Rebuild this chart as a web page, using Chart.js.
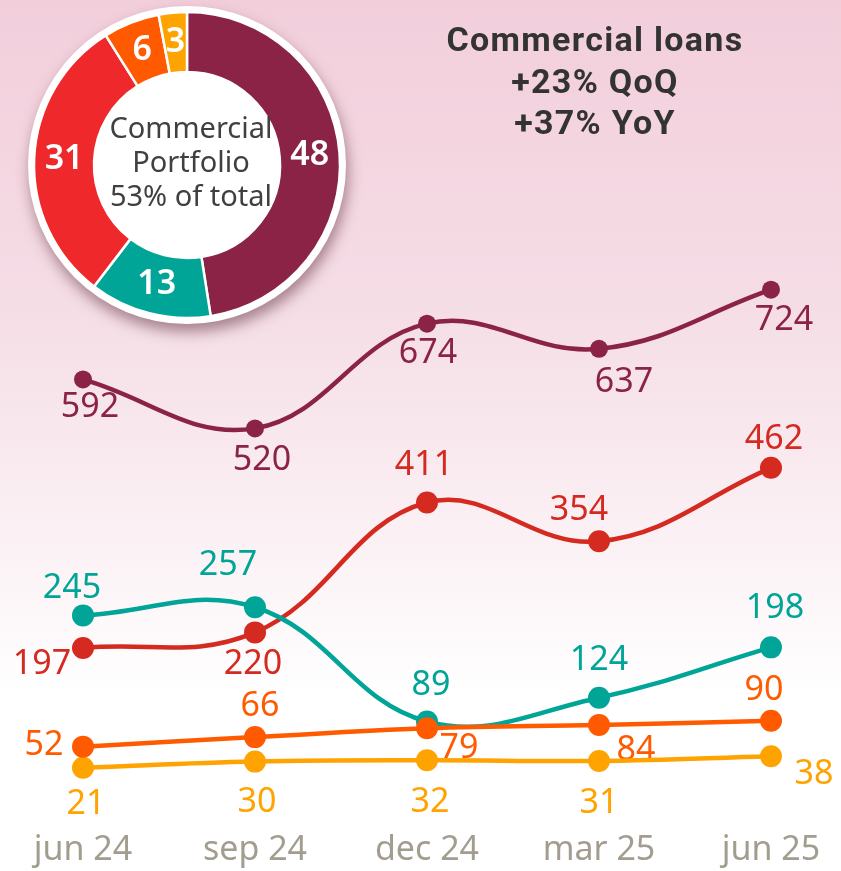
<!DOCTYPE html>
<html>
<head>
<meta charset="utf-8">
<script src="https://cdn.jsdelivr.net/npm/chart.js@4.4.1/dist/chart.umd.min.js"></script>
<style>
  html, body { margin: 0; padding: 0; }
  body {
    width: 841px; height: 871px; overflow: hidden; position: relative;
    background: linear-gradient(to bottom, #f2cedb 0%, #f5dde6 35%, #fbf1f5 62%, #ffffff 80%);
    font-family: "Noto Sans", sans-serif;
  }
  #lineChart { position: absolute; left: 0; top: 0; }
  #donutChart { position: absolute; left: 7px; top: -15px; }
  .headline {
    position: absolute; left: 395px; width: 400px; top: 19px;
    text-align: center; font: 700 34px Roboto, sans-serif; letter-spacing: 1.3px;
    line-height: 41.5px; color: #333;
  }
</style>
</head>
<body>
<canvas id="lineChart" width="841" height="871"></canvas>
<canvas id="donutChart" width="360" height="360"></canvas>
<div class="headline">Commercial loans<br>+23% QoQ<br>+37% YoY</div>
<script>
// values
const quarters = ["jun 24", "sep 24", "dec 24", "mar 25", "jun 25"];
const maroonSeries = [592, 520, 674, 637, 724];
const redSeries = [197, 220, 411, 354, 462];
const tealSeries = [245, 257, 89, 124, 198];
const orangeSeries = [52, 66, 79, 84, 90];
const amberSeries = [21, 30, 32, 31, 38];
const portfolioShares = [48, 13, 31, 6, 3];
const portfolioCaption = ["Commercial", "Portfolio", "53% of total"];

// where each value label sits relative to its point (px)
const maroonLabelPos = [[7, 28], [7, 32], [1, 30], [25, 33], [13, 31]];
const redLabelPos = [[-41, 16], [-2, 32], [-3, -37], [-20, -31], [3, -29]];
const tealLabelPos = [[-11, -27], [-27, -42], [4, -36], [0, -37], [4, -39]];
const orangeLabelPos = [[-39, -1], [5, -31], [32, 20], [37, 25], [-7, -30]];
const amberLabelPos = [[3, 37], [2, 41], [3, 42], [0, 42], [43, 18]];

const MAROON = "#8b2347", RED = "#d42a20", TEAL = "#00a598", ORANGE = "#ff5a00", AMBER = "#ffa300";

function lineSet(data, color, radius, order, labelPos) {
  return {
    data,
    borderColor: color,
    backgroundColor: color,
    pointBackgroundColor: color,
    pointBorderWidth: 0,
    pointRadius: radius,
    borderWidth: 4.5,
    tension: 0.4,
    clip: false,
    order,
    labelPos,
  };
}

// value labels, drawn under the lines
const pointLabels = {
  id: "pointLabels",
  beforeDatasetsDraw(chart) {
    const ctx = chart.ctx;
    ctx.save();
    ctx.font = "400 34px 'Noto Sans'";
    ctx.textAlign = "center";
    ctx.textBaseline = "middle";
    chart.data.datasets.forEach((ds, i) => {
      const meta = chart.getDatasetMeta(i);
      ctx.fillStyle = ds.borderColor;
      meta.data.forEach((pt, j) => {
        const [dx, dy] = ds.labelPos[j];
        ctx.fillText(String(ds.data[j]), pt.x + dx, pt.y + dy);
      });
    });
    ctx.restore();
  },
};

new Chart(document.getElementById("lineChart"), {
  type: "line",
  data: {
    labels: quarters,
    datasets: [
      lineSet(maroonSeries, MAROON, 9, 5, maroonLabelPos),
      lineSet(redSeries, RED, 11, 4, redLabelPos),
      lineSet(tealSeries, TEAL, 11, 3, tealLabelPos),
      lineSet(orangeSeries, ORANGE, 11, 1, orangeLabelPos),
      lineSet(amberSeries, AMBER, 11, 2, amberLabelPos),
    ],
  },
  options: {
    responsive: false,
    animation: false,
    layout: { padding: { left: 83, right: 70, top: 238, bottom: 0 } },
    plugins: { legend: { display: false }, tooltip: { enabled: false } },
    scales: {
      x: {
        grid: { display: false, drawTicks: false },
        border: { display: false },
        ticks: {
          color: "#a39d8f",
          font: { family: "Noto Sans", size: 34, lineHeight: 1.1 },
          padding: 2,
          maxRotation: 0,
          autoSkip: false,
        },
      },
      y: { display: false, min: -70, max: 800 },
    },
  },
  plugins: [pointLabels],
});

// white ring with a soft shadow behind the doughnut
const donutRing = {
  id: "donutRing",
  beforeDatasetsDraw(chart) {
    const arc = chart.getDatasetMeta(0).data[0];
    const ctx = chart.ctx;
    ctx.save();
    ctx.shadowColor = "rgba(90, 40, 55, 0.5)";
    ctx.shadowBlur = 14;
    ctx.shadowOffsetY = 8;
    ctx.shadowOffsetX = 2;
    ctx.beginPath();
    ctx.arc(arc.x, arc.y, 159, 0, Math.PI * 2);
    ctx.fillStyle = "#fff";
    ctx.fill();
    ctx.restore();
  },
};

const donutText = {
  id: "donutText",
  afterDatasetsDraw(chart) {
    const ctx = chart.ctx;
    const meta = chart.getDatasetMeta(0);
    ctx.save();
    ctx.textAlign = "center";
    ctx.textBaseline = "middle";
    ctx.fillStyle = "#fff";
    ctx.font = "600 34px 'Noto Sans'";
    meta.data.forEach((arc, i) => {
      const p = arc.tooltipPosition();
      ctx.fillText(String(portfolioShares[i]), p.x, p.y);
    });
    const c = meta.data[0];
    ctx.fillStyle = "#404040";
    ctx.font = "400 29px 'Noto Sans'";
    portfolioCaption.forEach((line, i) => {
      ctx.fillText(line, c.x + 4, c.y - 35 + i * 34);
    });
    ctx.restore();
  },
};

new Chart(document.getElementById("donutChart"), {
  type: "doughnut",
  data: {
    datasets: [{
      data: portfolioShares,
      backgroundColor: [MAROON, TEAL, "#ee282b", ORANGE, AMBER],
      borderColor: "#fff",
      borderWidth: 2.5,
    }],
  },
  options: {
    responsive: false,
    animation: false,
    radius: 153,
    cutout: "60.8%",
    plugins: { legend: { display: false }, tooltip: { enabled: false } },
  },
  plugins: [donutRing, donutText],
});
</script>
</body>
</html>
